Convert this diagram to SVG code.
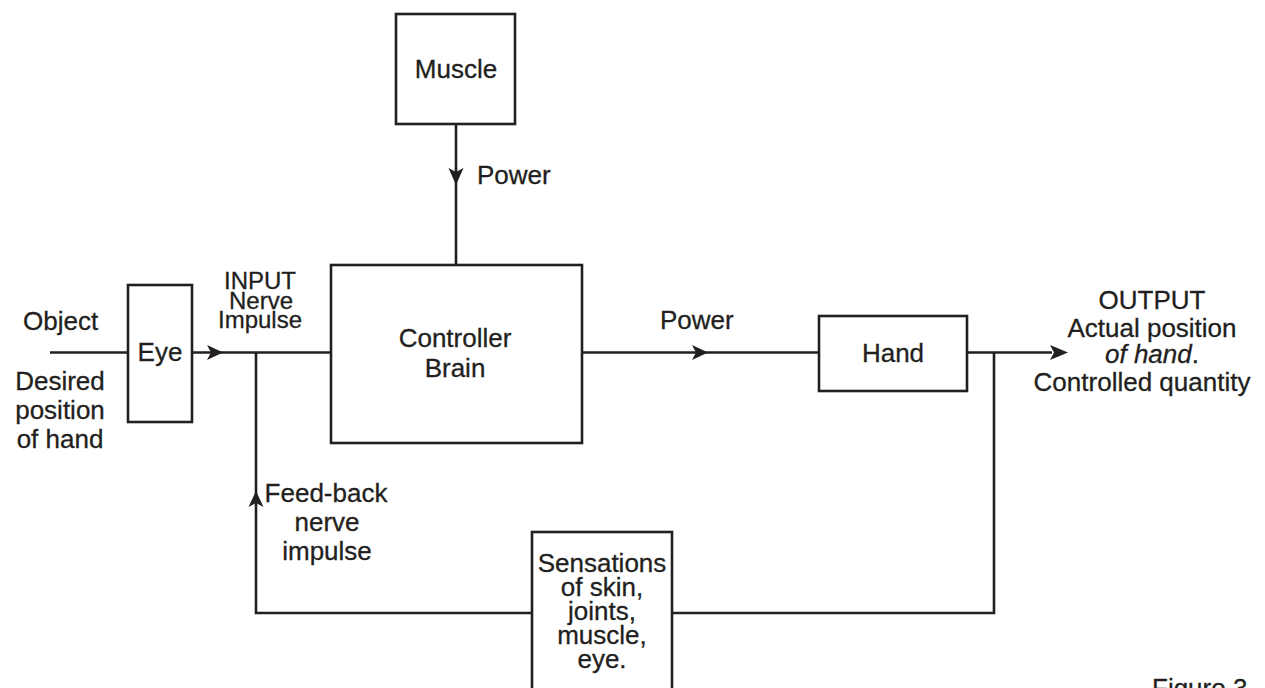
<svg xmlns="http://www.w3.org/2000/svg" width="1265" height="688" viewBox="0 0 1265 688">
<style>
.box{fill:#fff;stroke:#231f20;stroke-width:2.6}
.ln{fill:none;stroke:#231f20;stroke-width:2.6}
text{font-family:"Liberation Sans",Arial,sans-serif;font-size:26px;fill:#231f20;stroke:#231f20;stroke-width:0.3}
.m{text-anchor:middle}
.ah{fill:#231f20;stroke:none}
</style>
<rect width="1265" height="688" fill="#fff"/>
<g id="connectors">
<path class="ln" d="M50 352.5H128"/>
<path class="ln" d="M192 352.5H331"/>
<path class="ln" d="M456 124V265"/>
<path class="ln" d="M582 352.5H819"/>
<path class="ln" d="M967 352.5H1052"/>
<path class="ln" d="M994 352.5V613H672"/>
<path class="ln" d="M532 613H256V352.5"/>
<path class="ah" d="M223 352.5L207 345L211 352.5L207 360Z"/>
<path class="ah" d="M456 185L448.5 168L456 172L463.5 168Z"/>
<path class="ah" d="M708 352.5L692 345L696 352.5L692 360Z"/>
<path class="ah" d="M1068 352.5L1050 345L1054 352.5L1050 360Z"/>
<path class="ah" d="M256 491L248.5 507L256 503L263.5 507Z"/>
</g>
<g id="object-label">
<text x="23" y="330">Object</text>
<text class="m" x="60" y="390">Desired</text>
<text class="m" x="60" y="419">position</text>
<text class="m" x="60" y="448">of hand</text>
</g>
<g id="eye">
<rect class="box" x="128" y="285" width="64" height="137"/>
<text class="m" x="160" y="361">Eye</text>
</g>
<g id="input-label">
<text class="m" x="260" y="289" style="font-size:24px">INPUT</text>
<text class="m" x="261" y="309" style="font-size:24px">Nerve</text>
<text class="m" x="260" y="328" style="font-size:24px">Impulse</text>
</g>
<g id="muscle">
<rect class="box" x="396" y="14" width="119" height="110"/>
<text class="m" x="456" y="78">Muscle</text>
</g>
<text x="477" y="184">Power</text>
<g id="controller">
<rect class="box" x="331" y="265" width="251" height="178"/>
<text class="m" x="455" y="347">Controller</text>
<text class="m" x="455" y="377">Brain</text>
</g>
<text x="660" y="329">Power</text>
<g id="hand">
<rect class="box" x="819" y="316" width="148" height="75"/>
<text class="m" x="893" y="362">Hand</text>
</g>
<g id="output-label">
<text class="m" x="1152" y="309">OUTPUT</text>
<text class="m" x="1152" y="337">Actual position</text>
<text class="m" x="1152" y="363"><tspan font-style="italic">of hand</tspan>.</text>
<text class="m" x="1142" y="391">Controlled quantity</text>
</g>
<g id="feedback-label">
<text class="m" x="326" y="502">Feed-back</text>
<text class="m" x="327" y="531">nerve</text>
<text class="m" x="327" y="560">impulse</text>
</g>
<g id="sensations">
<rect class="box" x="532" y="532" width="140" height="170"/>
<text class="m" x="602" y="572">Sensations</text>
<text class="m" x="602" y="596">of skin,</text>
<text class="m" x="602" y="620">joints,</text>
<text class="m" x="602" y="644">muscle,</text>
<text class="m" x="602" y="668">eye.</text>
</g>
<text x="1152" y="697">Figure 3</text>
</svg>
